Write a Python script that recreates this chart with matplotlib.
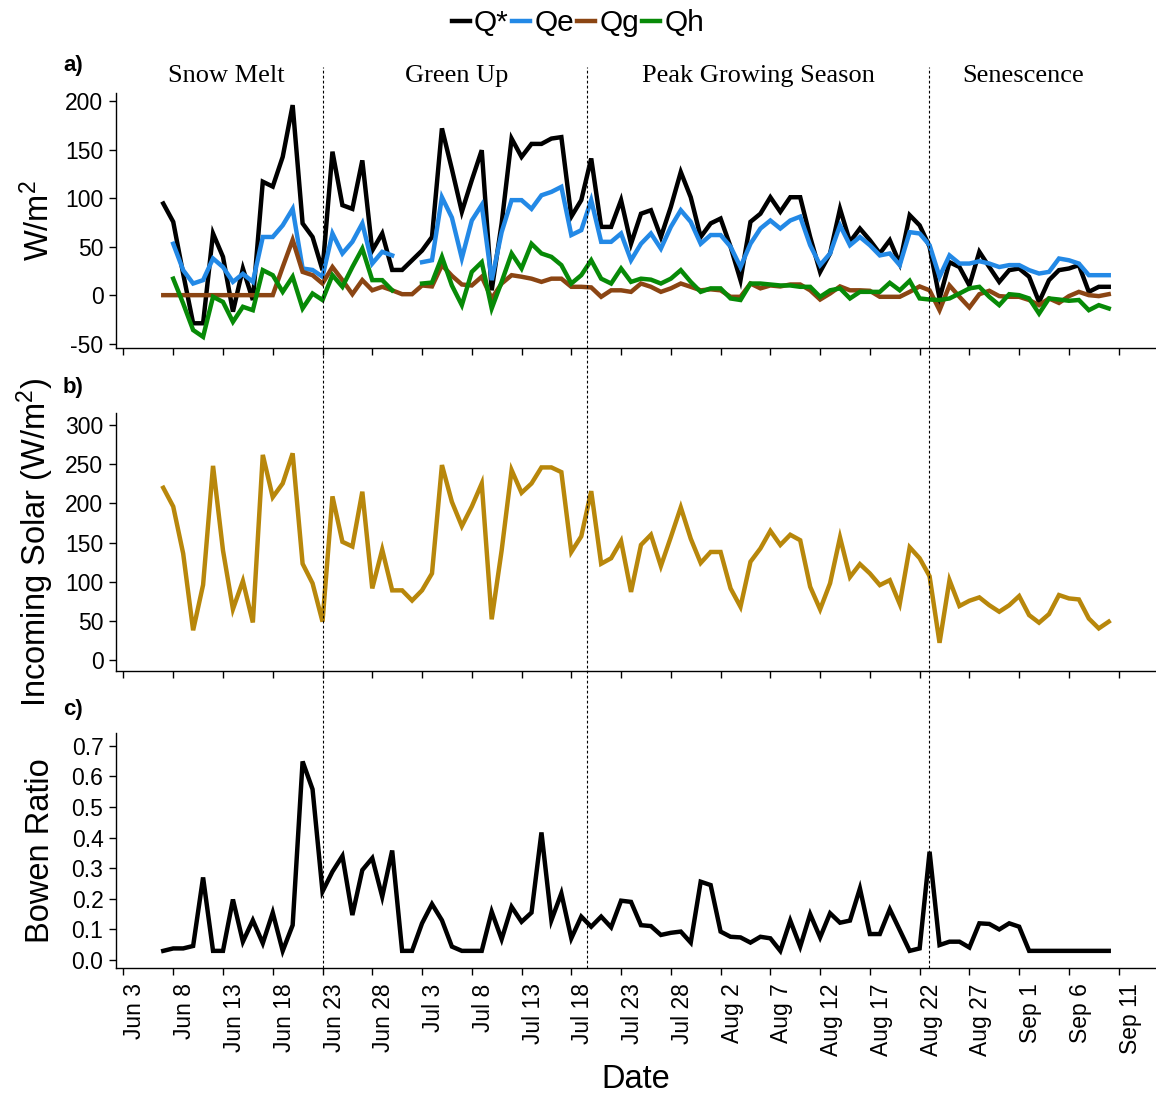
import matplotlib
matplotlib.use("Agg")
import matplotlib.pyplot as plt
import matplotlib.dates as mdates
import matplotlib.transforms as mtransforms
from matplotlib.lines import Line2D
import numpy as np
import pandas as pd

plt.rcParams["font.family"] = ["Liberation Sans", "DejaVu Sans"]
plt.rcParams["mathtext.fontset"] = "custom"
plt.rcParams["mathtext.rm"] = "Liberation Sans"
plt.rcParams["mathtext.it"] = "Liberation Sans:italic"

nan = np.nan

# daily means, Jun 7 - Sep 10
dates = pd.date_range("2017-06-07", "2017-09-10", freq="D")

q_star = [94.5, 75.6, 22, -29, -29, 63.6, 39.5, -17, 27.5, -5, 117, 112, 142.6, 196,
          74, 60, 25.8, 148, 92.8, 89, 139, 46, 63.6, 26, 26, 36, 46, 60, 172, 130,
          86, 118.6, 149.5, 5, 74, 161.5, 142.6, 156, 156, 161.5, 163, 81, 98, 141,
          70.4, 70.4, 98, 53, 84, 87.6, 60, 91, 127, 101, 60, 74, 79, 50, 15.5, 75.6,
          84, 101, 86, 101, 101, 60, 24, 43, 89, 55, 68.7, 56.7, 43, 56.7, 32.6, 82.5,
          72, 50, -3.4, 34, 29, 10, 44.7, 29, 13.7, 25.8, 27.5, 19, -7, 15.5, 25.8,
          27.5, 31, 3.4, 8.6, 8.6]
q_e = [nan, 53, 25.8, 12, 15.5, 37.8, 29, 13.7, 22, 13.7, 60, 60, 72, 89, 27.5, 26,
       19, 63.6, 43, 55, 74, 32.6, 44.7, 41, nan, nan, 34, 36, 101, 80, 38, 77, 93,
       15.5, 65, 98, 98, 89, 103, 106.5, 111.7, 62, 67, 98, 55, 55, 63.6, 36, 53,
       63.6, 48, 70.4, 87.6, 75.6, 53, 62, 62, 50, 29, 53, 68.7, 77, 68.7, 77, 81,
       51.5, 31, 43, 72, 51.5, 60, 51.5, 41, 43, 31, 65, 63.6, 51.5, 19, 41, 32.6,
       32.6, 35, 32.6, 29, 31, 31, 25.8, 22.3, 24, 37.8, 36, 32.6, 20.6, 20.6, 20.6]
q_g = [0, 0, 0, 0, 0, 0, 0, 0, 0, 0, 0, 0, 29, 57, 24, 20.6, 12, 29, 15.5, 1, 15.5, 5,
       8.6, 5, 1, 1, 10, 9, 31, 20, 11, 10, 19, -3.4, 12, 20.6, 19, 17, 13.7, 17, 17,
       8.6, 8.6, 8, -1.7, 5, 5, 3.4, 12, 8.6, 3.4, 7, 12, 8.6, 5, 6, 5, -1.7, -1.7,
       12, 7, 10, 9, 11, 11, 5, -4.5, 1.7, 9, 5, 5, 4.5, -1.7, -1.7, -1.7, 3.4, 9, 5,
       -15.5, 10, -1.7, -12.7, 1, 4.5, -1, -1.7, -1.7, -5, -10.3, -3.4, -8, -1, 3.4,
       0, -1, 1]
q_h = [nan, 17, -8.6, -36, -43, -1.7, -7, -27.5, -12, -15.5, 25.8, 20.6, 3.4, 19,
       -13.7, 1.7, -5, 20.6, 8.6, 29, 48, 15.5, 15.5, 5, nan, nan, 12, 13, 39.5, 10,
       -10.3, 24, 34, -13.7, 13.7, 43, 27.5, 53, 43, 39.5, 31, 12, 20.6, 36, 17, 12,
       27.5, 13.7, 17, 16, 12, 17, 25.8, 13.7, 3.4, 7, 7, -3.4, -5, 12, 12, 11, 10,
       10, 8.6, 8.6, -1.7, 5, 7, -3.4, 3.4, 3.4, 3.4, 12.7, 5, 14.8, -3.4, -4.5, -5,
       -3.4, 1.7, 7, 8.6, -1.7, -10.3, 1, 0, -3.4, -19, -3.4, -4.5, -5.8, -5, -15.5,
       -10.3, -13.7]
solar = [220, 196, 136, 38, 96, 248, 140, 65, 101, 48, 262, 208, 225.5, 264, 123, 98,
         49, 209, 151, 145, 215, 91.5, 141, 89, 89, 76, 89, 110.6, 249, 202, 171, 196,
         225.5, 52, 140, 242.6, 213.6, 225.5, 246, 246, 240, 138, 158, 215.7, 123,
         130, 152, 87, 147, 160, 120, 157, 195, 155, 124, 138, 138, 91.5, 68, 125.5,
         142.5, 165, 147, 160, 153, 93.6, 64.7, 98, 156.6, 106, 122.5, 110.6, 95.7,
         102, 71.5, 144, 130, 107, 22, 102, 69, 75.7, 80, 70, 61.7, 70, 81.7, 57.4,
         47.7, 58.7, 83, 78.7, 77.4, 53, 40.4, 49]
bowen = [0.03, 0.038, 0.038, 0.046, 0.27, 0.03, 0.03, 0.198, 0.06, 0.13, 0.055, 0.155,
         0.03, 0.114, 0.649, 0.558, 0.224, 0.289, 0.34, 0.147, 0.294, 0.333, 0.207,
         0.358, 0.03, 0.03, 0.12, 0.183, 0.13, 0.044, 0.03, 0.03, 0.03, 0.158, 0.068,
         0.174, 0.125, 0.155, 0.417, 0.13, 0.218, 0.071, 0.142, 0.109, 0.142, 0.107,
         0.194, 0.19, 0.114, 0.111, 0.082, 0.089, 0.093, 0.057, 0.256, 0.245, 0.093,
         0.076, 0.074, 0.057, 0.076, 0.071, 0.03, 0.129, 0.044, 0.15, 0.074, 0.153,
         0.122, 0.129, 0.234, 0.085, 0.085, 0.166, 0.098, 0.03, 0.038, 0.354, 0.049,
         0.06, 0.06, 0.041, 0.12, 0.118, 0.1, 0.12, 0.109, 0.03, 0.03, 0.03, 0.03,
         0.03, 0.03, 0.03, 0.03, 0.03]

flux_series = [("Q*", q_star, "black"), ("Qe", q_e, "#2389E6"),
               ("Qg", q_g, "#8B4513"), ("Qh", q_h, "#078A07")]

season_names = ["Snow Melt", "Green Up", "Peak Growing Season", "Senescence"]
season_mid_day = [10.3, 33.5, 63.8, 90.4]      # days after Jun 3
season_break_day = [20.0, 46.6, 80.9]

start = pd.Timestamp("2017-06-03")
tick_dates = pd.date_range(start, "2017-09-11", freq="5D")
tick_labels = [f"{d:%b} {d.day}" for d in tick_dates]

W, H = 1156, 1103
fig = plt.figure(figsize=(W / 100, H / 100), dpi=100)


def _box(top, bottom, left=116):
    return [left / W, 1 - bottom / H, 1 - left / W, (bottom - top) / H]


def _day(offset):
    return mdates.date2num(start + pd.Timedelta(days=offset))


ax_a = fig.add_axes(_box(93, 348))
ax_b = fig.add_axes(_box(413, 671), sharex=ax_a)
ax_c = fig.add_axes(_box(733, 968), sharex=ax_a)

for name, vals, col in flux_series:
    ax_a.plot(dates, vals, color=col, linewidth=3.2, label=name, solid_joinstyle="miter")
ax_b.plot(dates, solar, color="#B8870B", linewidth=3.2, solid_joinstyle="miter")
ax_c.plot(dates, bowen, color="black", linewidth=3.2, solid_joinstyle="miter")


def _style(ax, ylabel, yticks, ylim, fmt="{:g}"):
    for side in ("top", "right"):
        ax.spines[side].set_visible(False)
    for side in ("left", "bottom"):
        ax.spines[side].set_linewidth(1.0)
    ax.set_ylim(*ylim)
    ax.set_yticks(yticks)
    ax.set_yticklabels([fmt.format(v) for v in yticks])
    ax.tick_params(axis="both", direction="out", length=5, width=1.0,
                   labelsize=16.5, pad=4, colors="black")
    ax.set_ylabel(ylabel, fontsize=23.5)
    ax.yaxis.set_label_coords(-0.058, 0.5)


_style(ax_a, "W/m$^2$", [-50, 0, 50, 100, 150, 200], (-54.5, 208.5))
_style(ax_b, "Incoming Solar (W/m$^2$)", [0, 50, 100, 150, 200, 250, 300], (-14, 315.5))
_style(ax_c, "Bowen Ratio", [0, 0.1, 0.2, 0.3, 0.4, 0.5, 0.6, 0.7], (-0.026, 0.742),
       fmt="{:.1f}")

ax_c.set_xlim(_day(-0.75), _day(103.75))
ax_c.set_xticks(tick_dates)
ax_c.set_xticklabels(tick_labels, rotation=90, ha="left", va="top")
ax_c.tick_params(axis="x", pad=6)
for ax in (ax_a, ax_b):
    ax.tick_params(axis="x", labelbottom=False)
ax_c.set_xlabel("Date", fontsize=23.5, labelpad=6)

# season boundaries run through all three panels
trans = mtransforms.blended_transform_factory(ax_c.transData, fig.transFigure)
for d in season_break_day:
    x = _day(d)
    fig.add_artist(Line2D([x, x], [1 - 968 / H, 1 - 67 / H], transform=trans,
                          color="black", linewidth=0.8, linestyle=(0, (2.5, 2))))

season_trans = mtransforms.blended_transform_factory(ax_a.transData, fig.transFigure)
for name, d in zip(season_names, season_mid_day):
    ax_a.text(_day(d), 1 - 76 / H, name, transform=season_trans,
              ha="center", va="center", fontsize=19, family="Liberation Serif")

for letter, y in (("a)", 66), ("b)", 388), ("c)", 710)):
    fig.text(63 / W, 1 - y / H, letter, ha="left", va="center", fontsize=16,
             fontweight="bold")

fig.legend(*ax_a.get_legend_handles_labels(), loc="upper center",
           bbox_to_anchor=(0.5, 1.008), ncol=4, frameon=False, fontsize=21.5,
           handlelength=0.6, handletextpad=0.15, columnspacing=0.1, borderpad=0.1)

fig.savefig("out.png", dpi=100)
plt.close(fig)
